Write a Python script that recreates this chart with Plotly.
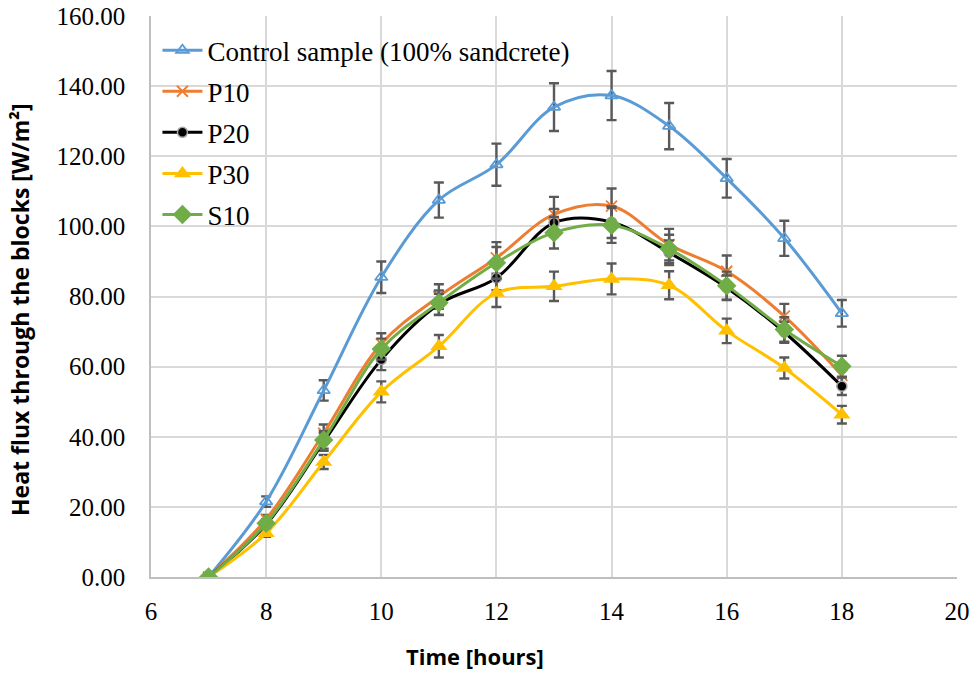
import plotly.graph_objects as go

time_h = [7, 8, 9, 10, 11, 12, 13, 14, 15, 16, 17, 18]

control = [0.0, 21.5, 53.2, 85.5, 107.5, 117.6, 134.0, 137.3, 128.6, 113.7, 96.6, 75.2]
control_err = [0.0, 1.5, 2.9, 4.5, 5.0, 6.0, 6.8, 7.0, 6.6, 5.5, 5.0, 3.8]

p10 = [0.0, 16.5, 41.0, 66.5, 80.0, 91.0, 103.4, 105.8, 94.8, 87.2, 74.4, 57.5]
p10_err = [0.0, 1.2, 2.5, 3.0, 3.5, 4.5, 5.0, 5.0, 4.5, 4.5, 3.5, 3.0]

p20 = [0.0, 15.0, 38.5, 62.0, 77.8, 85.3, 101.0, 101.2, 92.5, 82.5, 69.8, 54.4]
p20_err = [0.0, 1.2, 2.5, 3.0, 3.0, 3.5, 4.0, 4.5, 3.5, 3.5, 3.0, 2.5]

p30 = [0.0, 12.5, 32.8, 52.8, 65.8, 81.0, 82.9, 85.0, 83.2, 70.2, 59.6, 46.3]
p30_err = [0.0, 1.0, 2.0, 3.0, 3.2, 4.0, 4.2, 4.4, 4.0, 3.5, 3.0, 2.5]

s10 = [0.0, 15.3, 39.1, 65.0, 78.2, 89.6, 98.2, 100.3, 93.6, 83.1, 70.6, 60.1]
s10_err = [0.0, 1.2, 2.5, 3.0, 3.5, 4.5, 4.5, 5.0, 4.0, 4.0, 3.5, 3.0]

series_names = ["Control sample (100% sandcrete)", "P10", "P20", "P30", "S10"]
x_title = "Time [hours]"
y_title = "Heat flux through the blocks [W/m²]"

err_col = "#595959"

def eb(vals):
    return dict(type="data", array=vals, visible=True, color=err_col, thickness=2.4, width=5)

fig = go.Figure()

fig.add_trace(go.Scatter(
    x=time_h, y=control, name=series_names[0], mode="lines+markers", legendgroup="a",
    line=dict(color="#5B9BD5", width=3, shape="spline", smoothing=1),
    marker=dict(symbol="triangle-up-open", size=11, color="#5B9BD5", line=dict(width=1.8, color="#5B9BD5")),
    error_y=eb(control_err)))

fig.add_trace(go.Scatter(
    x=time_h, y=p10, name=series_names[1], mode="lines+markers", legendgroup="b",
    line=dict(color="#ED7D31", width=3, shape="spline", smoothing=1),
    marker=dict(symbol="x-thin", size=11, color="#ED7D31", line=dict(width=1.8, color="#ED7D31")),
    error_y=eb(p10_err)))

fig.add_trace(go.Scatter(
    x=time_h, y=p20, name=series_names[2], mode="lines+markers", legendgroup="c",
    line=dict(color="#000000", width=3, shape="spline", smoothing=1),
    marker=dict(symbol="circle", size=10, color="#000000", line=dict(width=1.5, color="#A5A5A5")),
    error_y=eb(p20_err)))

fig.add_trace(go.Scatter(
    x=time_h, y=p30, name=series_names[3], mode="lines+markers", legendgroup="d",
    line=dict(color="#FFC000", width=3, shape="spline", smoothing=1),
    marker=dict(symbol="triangle-up", size=15, color="#FFC000"),
    error_y=eb(p30_err)))

fig.add_trace(go.Scatter(
    x=time_h, y=s10, name=series_names[4], mode="lines+markers", legendgroup="e",
    line=dict(color="#70AD47", width=3, shape="spline", smoothing=1),
    marker=dict(symbol="diamond", size=15, color="#70AD47"),
    error_y=eb(s10_err)))

fig.update_layout(
    width=974, height=673,
    margin=dict(l=151, r=17, t=16, b=96),
    plot_bgcolor="white", paper_bgcolor="white",
    showlegend=True,
    legend=dict(x=0.008, y=0.982, xanchor="left", yanchor="top",
                font=dict(family="Liberation Serif", size=27, color="#000000"),
                bgcolor="rgba(255,255,255,0)", tracegroupgap=3, itemwidth=40),
    xaxis=dict(range=[6, 20], dtick=2, tick0=6, showgrid=True, gridcolor="#D9D9D9", gridwidth=1.5,
               showline=True, linecolor="#BFBFBF", linewidth=1.5, zeroline=False, automargin=False,
               ticks="", ticklabelstandoff=11,
               tickfont=dict(family="Liberation Serif", size=25, color="#000")),
    yaxis=dict(range=[0, 160], dtick=20, showgrid=True, gridcolor="#D9D9D9", gridwidth=1.5,
               showline=True, linecolor="#BFBFBF", linewidth=1.5, zeroline=False, automargin=False,
               tickformat=".2f", ticks="", ticklabelstandoff=19,
               tickfont=dict(family="Liberation Serif", size=25, color="#000")),
    annotations=[
        dict(text="<b>" + x_title + "</b>", xref="paper", yref="paper",
             x=(475 - 151) / 806, y=-(656 - 577) / 561, xanchor="center", yanchor="middle",
             showarrow=False, font=dict(family="Open Sans", size=22, color="#000")),
        dict(text="<b>" + y_title + "</b>", xref="paper", yref="paper", textangle=-90,
             x=-(151 - 20) / 806, y=(577 - 310) / 561, xanchor="center", yanchor="middle",
             showarrow=False, font=dict(family="Open Sans", size=23, color="#000")),
    ],
)

fig.write_html("out.html")
